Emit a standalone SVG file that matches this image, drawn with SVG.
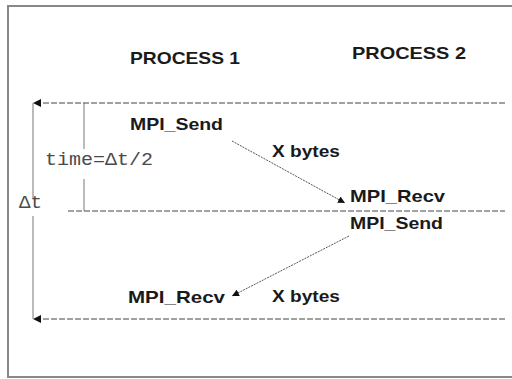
<svg xmlns="http://www.w3.org/2000/svg" width="512" height="379" viewBox="0 0 512 379">
<defs>
<style>
.t{font-family:"Liberation Sans",Arial,sans-serif;font-weight:bold;fill:#1a1a1a;font-size:17px}
.m{font-family:"Liberation Mono","Courier New",monospace;fill:#4a4a4a}
.dash{stroke:#444;stroke-width:1;stroke-dasharray:6 2;fill:none}
.solid{stroke:#777;stroke-width:1;fill:none}
.msg{stroke:#555;stroke-width:1;stroke-dasharray:2 1;fill:none}
</style>
<marker id="ah" viewBox="0 0 10 10" refX="10" refY="5" markerWidth="8" markerHeight="8" markerUnits="userSpaceOnUse" orient="auto">
<path d="M0,0 L10,5 L0,10 z" fill="#111"/>
</marker>
<marker id="ahs" viewBox="0 0 10 10" refX="10" refY="5" markerWidth="7" markerHeight="7" markerUnits="userSpaceOnUse" orient="auto">
<path d="M0,0 L10,5 L0,10 z" fill="#111"/>
</marker>
</defs>
<rect x="0" y="0" width="512" height="379" fill="#fff"/>
<rect x="8" y="6" width="520" height="371" fill="#fff" stroke="#888" stroke-width="2"/>
<g id="connectors">
<line class="dash" x1="505" y1="103" x2="33" y2="103" marker-end="url(#ah)"/>
<line class="dash" x1="505" y1="319" x2="33" y2="319" marker-end="url(#ah)"/>
<line class="dash" x1="68" y1="211" x2="505" y2="211"/>
<line class="solid" x1="33" y1="103" x2="33" y2="319"/>
<line class="solid" x1="84" y1="103" x2="84" y2="211"/>
<line class="msg" x1="232" y1="141" x2="345" y2="203" marker-end="url(#ahs)"/>
<line class="msg" x1="349" y1="236" x2="232" y2="296" marker-end="url(#ahs)"/>
</g>
<g id="process1"><text class="t" x="130" y="64" textLength="110" lengthAdjust="spacingAndGlyphs">PROCESS 1</text></g>
<g id="process2"><text class="t" x="352" y="59" textLength="114" lengthAdjust="spacingAndGlyphs">PROCESS 2</text></g>
<g id="send1"><text class="t" x="130" y="130" textLength="93" lengthAdjust="spacingAndGlyphs">MPI_Send</text></g>
<g id="recv2"><text class="t" x="350" y="202" textLength="95" lengthAdjust="spacingAndGlyphs">MPI_Recv</text></g>
<g id="send2"><text class="t" x="350" y="229" textLength="93" lengthAdjust="spacingAndGlyphs">MPI_Send</text></g>
<g id="recv1"><text class="t" x="128" y="303" textLength="97" lengthAdjust="spacingAndGlyphs">MPI_Recv</text></g>
<g id="bytes1"><text class="t" x="272" y="157" textLength="68" lengthAdjust="spacingAndGlyphs">X bytes</text></g>
<g id="bytes2"><text class="t" x="272" y="302" textLength="68" lengthAdjust="spacingAndGlyphs">X bytes</text></g>
<g id="half">
<rect x="74" y="149" width="20" height="30" fill="#fff"/>
<text class="m" x="45" y="165" font-size="18" textLength="108" lengthAdjust="spacingAndGlyphs">time=Δt/2</text>
</g>
<g id="delta">
<rect x="25" y="198" width="16" height="18" fill="#fff"/>
<text class="m" x="19" y="208" font-size="18" textLength="23" lengthAdjust="spacingAndGlyphs">Δt</text>
</g>
</svg>
